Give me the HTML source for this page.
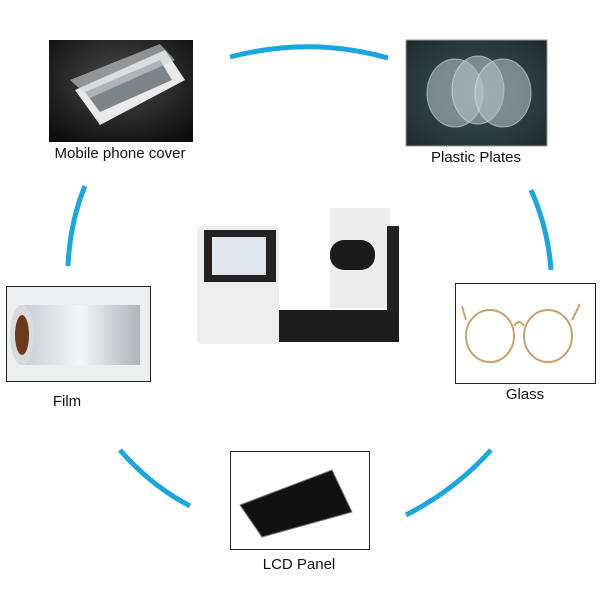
<!DOCTYPE html><html><head><style>
body{margin:0;width:600px;height:600px;background:#fff;position:relative;overflow:hidden;font-family:"Liberation Sans",sans-serif}
.l{position:absolute;font-size:15px;color:#111;white-space:nowrap;transform:translateX(-50%)}
</style></head><body>
<svg width="600" height="600" style="position:absolute;left:0;top:0">
<g fill="none" stroke="#1aa7df" stroke-width="5">
<path d="M230 57 Q310 36 388 58"/>
<path d="M85 186 Q70 222 68 266"/>
<path d="M531 190 Q548 228 551 270"/>
<path d="M120 450 Q150 485 190 506"/>
<path d="M406 515 Q455 490 491 450"/>
</g>
<!-- phone -->
<defs><radialGradient id="g1" cx="50%" cy="40%" r="70%"><stop offset="0" stop-color="#4a4a4a"/><stop offset="1" stop-color="#0e0e0e"/></radialGradient>
<radialGradient id="g2" cx="50%" cy="50%" r="70%"><stop offset="0" stop-color="#3e5458"/><stop offset="1" stop-color="#1d2a2e"/></radialGradient>
<linearGradient id="g3" x1="0" x2="1"><stop offset="0" stop-color="#c8ccd0"/><stop offset=".5" stop-color="#f4f6f7"/><stop offset="1" stop-color="#b0b4b8"/></linearGradient></defs>
<rect x="49" y="40" width="144" height="102" fill="url(#g1)"/>
<polygon points="75,90 165,50 185,80 100,125" fill="#e8eaec"/>
<polygon points="85,92 160,60 172,80 100,112" fill="#7d8488"/>
<polygon points="70,80 160,44 175,60 90,98" fill="#cfd3d6" opacity=".6"/>
<rect x="406" y="40" width="141" height="106" fill="url(#g2)" stroke="#999"/>
<g fill="#b8c4c6" fill-opacity=".55" stroke="#dfe6e7" stroke-opacity=".6"><ellipse cx="455" cy="93" rx="28" ry="34"/><ellipse cx="478" cy="90" rx="26" ry="34"/><ellipse cx="503" cy="93" rx="28" ry="34"/></g>
<rect x="6.5" y="286.5" width="144" height="95" fill="#eceef0" stroke="#222"/>
<rect x="20" y="305" width="120" height="60" fill="url(#g3)"/>
<ellipse cx="22" cy="335" rx="12" ry="30" fill="#d9dcde"/><ellipse cx="22" cy="335" rx="7" ry="20" fill="#6a3a1a"/>
<rect x="455.5" y="283.5" width="140" height="100" fill="#fff" stroke="#222"/>
<g fill="none" stroke="#c9a368" stroke-width="2"><ellipse cx="490" cy="336" rx="24" ry="26"/><ellipse cx="548" cy="336" rx="24" ry="26"/><path d="M514 326 Q519 318 524 326"/><path d="M466 320 L462 306"/><path d="M572 320 L580 304"/></g>
<rect x="230.5" y="451.5" width="139" height="98" fill="#fff" stroke="#222"/>
<polygon points="240,505 332,470 352,512 262,537" fill="#111" stroke="#777"/>
<!-- device -->
<rect x="197" y="226" width="82" height="118" fill="#eee" rx="3"/>
<rect x="204" y="230" width="72" height="52" fill="#222"/>
<rect x="212" y="237" width="54" height="38" fill="#dfe6ee"/>
<rect x="279" y="310" width="120" height="32" fill="#1c1c1c"/>
<rect x="330" y="208" width="60" height="100" fill="#ededed"/>
<rect x="387" y="226" width="12" height="86" fill="#222"/>
<rect x="330" y="240" width="45" height="30" rx="14" fill="#1a1a1a"/>
</svg>
<div class="l" style="left:120px;top:145px">Mobile phone cover</div>
<div class="l" style="left:476px;top:149px">Plastic Plates</div>
<div class="l" style="left:67px;top:393px">Film</div>
<div class="l" style="left:525px;top:386px">Glass</div>
<div class="l" style="left:299px;top:556px">LCD Panel</div>
</body></html>
